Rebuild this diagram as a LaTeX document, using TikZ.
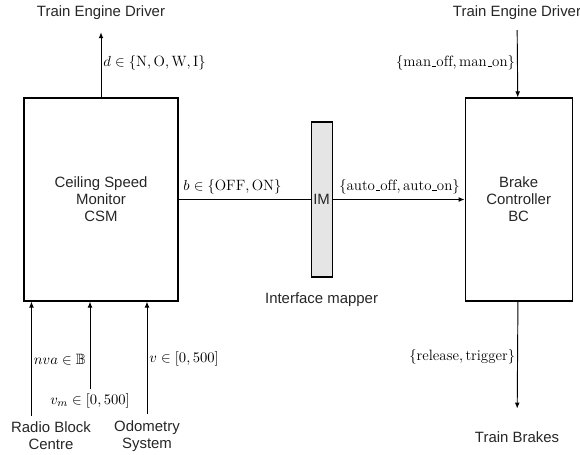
\documentclass[tikz,border=0pt]{standalone}
\usepackage{amsmath,amssymb}
\usepackage{fontspec}
\setsansfont{Liberation Sans}
\usetikzlibrary{arrows.meta,positioning}

\newcommand{\usc}{\kern.06em\vbox{\hrule width.3em}}

\begin{document}
\begin{tikzpicture}[
  x=0.75pt, y=-0.75pt,
  font=\fontsize{11.2}{12.8}\selectfont,
  blk/.style={draw, line width=0.8pt, align=center, font=\fontsize{11.2}{12.8}\selectfont\sffamily, text=black!85},
  ext/.style={align=center, inner sep=0pt, font=\fontsize{11.2}{12.8}\selectfont\sffamily, text=black!85},
  lab/.style={inner sep=1.5pt},
  arr/.style={-{Latex[length=4.5pt,width=3.6pt]}, line width=0.7pt}
]
\useasboundingbox (0,0) rectangle (580,454);

% blocks
\node[blk, minimum width=115.5pt, minimum height=152.25pt] (csm) at (101,199.5) {Ceiling Speed\\Monitor\\CSM};
\node[blk, fill=gray!20, inner sep=0pt, minimum width=15.75pt, minimum height=116.25pt, right=99pt of csm] (im) {IM};
\node[blk, minimum width=80.25pt, minimum height=152.25pt, right=99pt of im] (bc) {Brake\\Controller\\BC};
\node[ext, below=11pt of im] (imname) {Interface mapper};

% environment
\node[ext] (drvl) at (101,13) {Train Engine Driver};
\node[ext] (drvr) at (517,13) {Train Engine Driver};
\node[ext] (brk) at (517,437) {Train Brakes};
\node[ext] (rbc) at (51,436) {Radio Block\\Centre};
\node[ext] (odo) at (147,436) {Odometry\\System};
\node[lab, inner sep=3pt] (vm) at (90,401) {$v_m \in [0,500]$};
\coordinate (nvain) at ([xshift=6pt]csm.south west);

% signals
\draw[arr, shorten >=9pt] (csm) -- node[lab, right, pos=0.45] {$d \in \{\mathrm{N}, \mathrm{O}, \mathrm{W}, \mathrm{I}\}$} (drvl);
\draw[arr, shorten <=7.5pt] (drvr) -- node[lab, left, pos=0.55] {$\{\mathrm{man\usc off}, \mathrm{man\usc on}\}$} (bc);
\draw[line width=0.7pt] (csm) -- node[above right, pos=0] {$b \in \{\mathrm{OFF}, \mathrm{ON}\}$} (im);
\draw[arr] (im) -- node[above left, pos=1] {$\{\mathrm{auto\usc off}, \mathrm{auto\usc on}\}$} (bc);
\draw[arr, shorten >=17pt] (bc) -- node[lab, left, pos=0.43] {$\{\mathrm{release}, \mathrm{trigger}\}$} (brk);
\draw[arr, shorten <=4.5pt] (rbc.north -| nvain) -- node[lab, right, pos=0.52] {$nva \in \mathbb{B}$} (nvain);
\draw[arr] (vm) -- (vm |- csm.south);
\draw[arr, shorten <=4.5pt] (odo) -- node[lab, right, pos=0.52] {$v \in [0,500]$} (odo |- csm.south);
\end{tikzpicture}
\end{document}
